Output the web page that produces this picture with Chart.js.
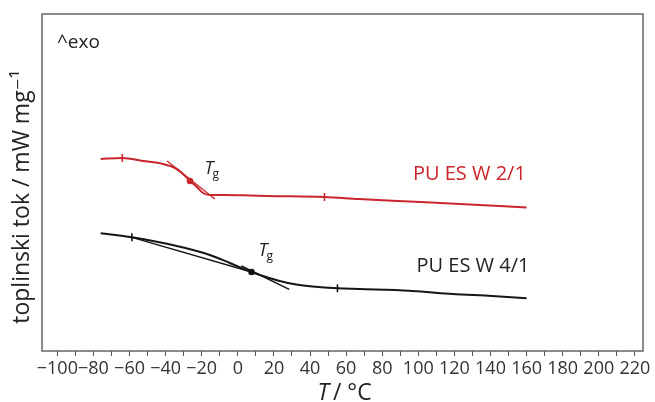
<!DOCTYPE html>
<html>
<head>
<meta charset="utf-8">
<script src="https://cdn.jsdelivr.net/npm/chart.js@4/dist/chart.umd.min.js"></script>
<style>
  html, body { margin: 0; padding: 0; background: #fff; }
  #wrap { width: 655px; height: 402px; }
</style>
</head>
<body>
<div id="wrap"><canvas id="dsc"></canvas></div>
<script>
'use strict';

// DSC curves, T in °C, heat flow in arbitrary units
const redTemp  = [-76, -64, -52.5, -41.4, -34.8, -30.4, -26.5, -22.7, -19.3, -15.5, -8.3, 6.6, 16, 48, 67, 95, 123, 160];
const redFlow  = [1.92, 1.93, 1.90, 1.87, 1.83, 1.77, 1.70, 1.64, 1.58, 1.56, 1.56, 1.555, 1.55, 1.54, 1.52, 1.495, 1.47, 1.435];
const blackTemp = [-76, -58.7, -44.9, -30.2, -15.5, -4.4, 7.6, 14.9, 23.2, 32.4, 41.4, 55.2, 67.4, 95, 104.4, 118.8, 140.9, 160];
const blackFlow = [1.177, 1.137, 1.093, 1.035, 0.96, 0.88, 0.79, 0.745, 0.70, 0.665, 0.645, 0.627, 0.62, 0.603, 0.59, 0.57, 0.55, 0.527];

// tangent constructions
const redTanT   = [-39.2, -12.7];
const redTanF   = [1.90, 1.52];
const blackTanAT = [-58.7, 7.6];
const blackTanAF = [1.137, 0.79];
const blackTanBT = [2, 28.5];
const blackTanBF = [0.85, 0.617];

// small marks on the curves
const redTickT   = [-64, 48];
const redTickF   = [1.93, 1.54];
const redDotT    = [-26.5];
const redDotF    = [1.70];
const blackTickT = [-58.7, 55.2];
const blackTickF = [1.137, 0.627];
const blackDotT  = [7.6];
const blackDotF  = [0.79];

const RED = '#c9252c';
const BLK = '#151515';
const FONT = '"Open Sans", "DejaVu Sans", sans-serif';

const pts = (xs, ys) => xs.map((x, i) => ({x, y: ys[i]}));
const line = (xs, ys, color, width) => ({
  data: pts(xs, ys), borderColor: color, borderWidth: width,
  pointRadius: 0, fill: false, tension: 0,
});
const marks = (xs, ys, color, style) => ({
  data: pts(xs, ys), showLine: false, borderColor: color, backgroundColor: color,
  pointStyle: style, pointRadius: style === 'line' ? 4 : 2.5,
  pointRotation: style === 'line' ? 90 : 0, pointBorderWidth: 1.6,
});

const labelsPlugin = {
  id: 'labels',
  afterDraw(chart) {
    const {ctx, chartArea: a, scales: {x, y}} = chart;
    ctx.save();
    // frame
    ctx.strokeStyle = '#666';
    ctx.lineWidth = 1.5;
    ctx.strokeRect(a.left, a.top, a.right - a.left, a.bottom - a.top);

    ctx.textBaseline = 'alphabetic';
    ctx.fillStyle = '#222';
    ctx.font = '19px ' + FONT;
    ctx.fillText('^exo', a.left + 15, a.top + 34);

    const tg = (t, f) => {
      const px = x.getPixelForValue(t), py = y.getPixelForValue(f);
      ctx.fillStyle = '#222';
      ctx.font = 'italic 18px ' + FONT;
      ctx.fillText('T', px, py);
      const w = ctx.measureText('T').width;
      ctx.font = '12px ' + FONT;
      ctx.fillText('g', px + w - 1, py + 4);
    };
    tg(-18.5, 1.77);
    tg(11.5, 0.95);

    ctx.font = '20px ' + FONT;
    ctx.fillStyle = RED;
    ctx.fillText('PU ES W 2/1', x.getPixelForValue(97), y.getPixelForValue(1.71));
    ctx.fillStyle = '#222';
    ctx.fillText('PU ES W 4/1', x.getPixelForValue(99), y.getPixelForValue(0.79));

    // x title: T / °C
    ctx.font = 'italic 23px ' + FONT;
    const tx = (a.left + a.right) / 2 - 25;
    ctx.fillText('T', tx, 400);
    const tw = ctx.measureText('T').width;
    ctx.font = '23px ' + FONT;
    ctx.fillText(' / °C', tx + tw - 2, 400);

    // y title
    ctx.translate(29, 197);
    ctx.rotate(-Math.PI / 2);
    ctx.textAlign = 'center';
    ctx.font = '23px ' + FONT;
    ctx.fillText('toplinski tok / mW mg\u207B\u00B9', 0, 0);
    ctx.restore();
  },
};

new Chart(document.getElementById('dsc').getContext('2d'), {
  type: 'line',
  data: {
    datasets: [
      {...line(redTemp, redFlow, RED, 2), tension: 0.35, cubicInterpolationMode: 'monotone'},
      {...line(blackTemp, blackFlow, BLK, 2), tension: 0.35, cubicInterpolationMode: 'monotone'},
      line(redTanT, redTanF, RED, 1.4),
      line(blackTanAT, blackTanAF, BLK, 1.4),
      line(blackTanBT, blackTanBF, BLK, 1.4),
      marks(redTickT, redTickF, RED, 'line'),
      marks(redDotT, redDotF, RED, 'circle'),
      marks(blackTickT, blackTickF, BLK, 'line'),
      marks(blackDotT, blackDotF, BLK, 'circle'),
    ],
  },
  options: {
    responsive: true,
    maintainAspectRatio: false,
    animation: false,
    layout: {padding: {top: 14, right: 12, left: 0, bottom: 0}},
    plugins: {legend: {display: false}, tooltip: {enabled: false}},
    scales: {
      x: {
        type: 'linear', min: -108.5, max: 224.5,
        afterBuildTicks: s => {
          const t = [];
          for (let v = -100; v <= 220; v += 10) t.push({value: v});
          s.ticks = t;
        },
        afterFit: s => { s.height = 51; },
        border: {display: false},
        grid: {drawOnChartArea: false, tickLength: 5, color: '#555', lineWidth: 1},
        ticks: {
          color: '#333', font: {family: FONT, size: 18}, padding: 2, maxRotation: 0,
          autoSkip: false,
          callback: v => v % 20 === 0 ? (v < 0 ? '\u2212' + Math.abs(v) : String(v)) : '',
        },
        title: {display: false},
      },
      y: {
        min: 0, max: 3.37,
        afterFit: s => { s.width = 42; },
        border: {display: false},
        grid: {display: false},
        ticks: {display: false},
        title: {display: false},
      },
    },
  },
  plugins: [labelsPlugin],
});
</script>
</body>
</html>
